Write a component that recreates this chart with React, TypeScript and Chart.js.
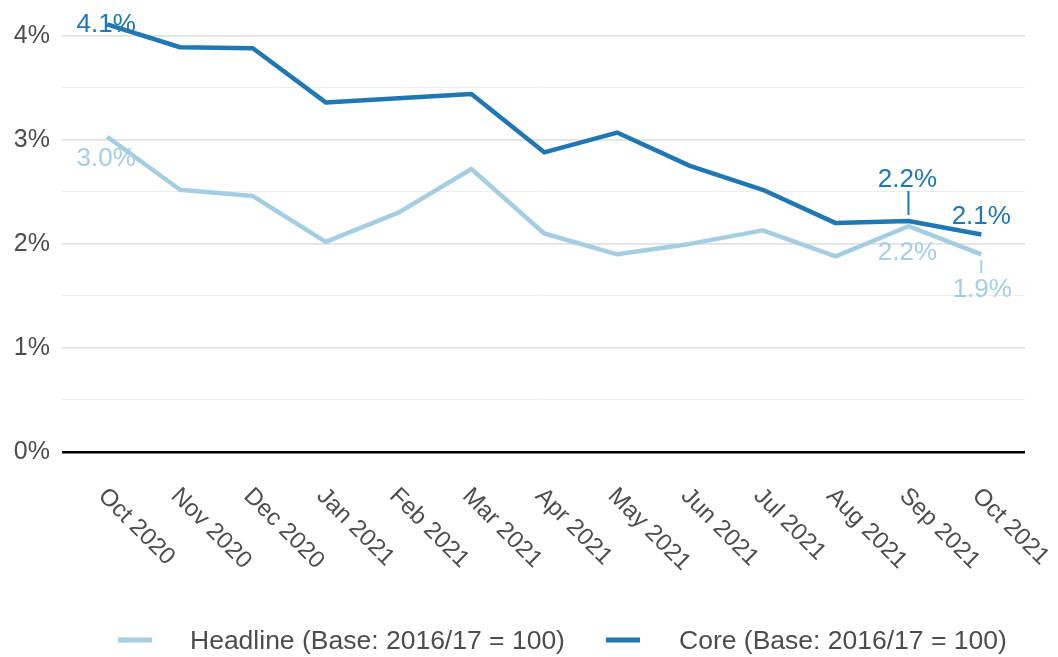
import React, { useEffect, useRef } from "react";
import { Chart, registerables } from "chart.js";

Chart.register(...registerables);

const months = [
  "Oct 2020", "Nov 2020", "Dec 2020", "Jan 2021", "Feb 2021", "Mar 2021", "Apr 2021",
  "May 2021", "Jun 2021", "Jul 2021", "Aug 2021", "Sep 2021", "Oct 2021",
];
const headlineValues = [3.03, 2.52, 2.46, 2.02, 2.3, 2.72, 2.1, 1.9, 2.0, 2.13, 1.88, 2.17, 1.9];
const coreValues = [4.11, 3.89, 3.88, 3.36, 3.4, 3.44, 2.88, 3.07, 2.75, 2.52, 2.2, 2.22, 2.09];
const yMajorTicks = [0, 1, 2, 3, 4];
const seriesNames = ["Headline (Base: 2016/17 = 100)", "Core (Base: 2016/17 = 100)"];

const HEADLINE_COLOR = "#a6cee3";
const CORE_COLOR = "#1f78b4";
const TEXT_COLOR = "#4d4d4d";
const FONT = '"Liberation Sans", Arial, sans-serif';

// label placement (dataset index, point index, offsets in px, connector)
const labelSpecs = [
  { ds: 1, i: 0, dx: -1, dy: -2, conn: null as null | [number, number] },
  { ds: 0, i: 0, dx: -1, dy: 20, conn: null },
  { ds: 1, i: 11, dx: -1, dy: -43, conn: [-30, -6] as [number, number] },
  { ds: 1, i: 12, dx: 0, dy: -20, conn: null },
  { ds: 0, i: 11, dx: -1, dy: 24, conn: null },
  { ds: 0, i: 12, dx: 1, dy: 33, conn: [6, 19] as [number, number] },
];

const overlayPlugin = {
  id: "overlay",
  afterDraw(chart: any) {
    const ctx = chart.ctx as CanvasRenderingContext2D;
    const xs = chart.scales.x;
    const ys = chart.scales.y;
    ctx.save();
    // rotated x labels
    ctx.font = `24px ${FONT}`;
    ctx.fillStyle = TEXT_COLOR;
    ctx.textAlign = "left";
    ctx.textBaseline = "alphabetic";
    months.forEach((m, i) => {
      const px = xs.getPixelForValue(i);
      ctx.save();
      ctx.translate(px - 10, ys.bottom + 45);
      ctx.rotate(Math.PI / 4);
      ctx.fillText(m, 0, 0);
      ctx.restore();
    });
    // data labels
    ctx.font = `26px ${FONT}`;
    ctx.textAlign = "center";
    labelSpecs.forEach((s) => {
      const vals = s.ds === 0 ? headlineValues : coreValues;
      const color = s.ds === 0 ? HEADLINE_COLOR : CORE_COLOR;
      const v = vals[s.i];
      const px = xs.getPixelForValue(s.i);
      const py = ys.getPixelForValue(v);
      ctx.fillStyle = color;
      ctx.fillText(v.toFixed(1) + "%", px + s.dx, py + s.dy + 26 * 0.358);
      if (s.conn) {
        ctx.strokeStyle = color;
        ctx.lineWidth = 2;
        ctx.beginPath();
        ctx.moveTo(px, py + s.conn[0]);
        ctx.lineTo(px, py + s.conn[1]);
        ctx.stroke();
      }
    });
    // legend
    const legendY = 640;
    const items = [
      { x: 118, tx: 190, color: HEADLINE_COLOR, text: seriesNames[0] },
      { x: 606, tx: 679, color: CORE_COLOR, text: seriesNames[1] },
    ];
    ctx.font = `26.5px ${FONT}`;
    ctx.textAlign = "left";
    items.forEach((it) => {
      ctx.fillStyle = it.color;
      ctx.fillRect(it.x, legendY - 2.5, 34, 5);
      ctx.fillStyle = TEXT_COLOR;
      ctx.fillText(it.text, it.tx, legendY + 26.5 * 0.358);
    });
    ctx.restore();
  },
};

export default function App() {
  const ref = useRef<HTMLCanvasElement | null>(null);
  useEffect(() => {
    if (!ref.current) return;
    const chart = new Chart(ref.current, {
      type: "line",
      data: {
        datasets: [
          {
            label: seriesNames[0],
            data: headlineValues.map((v, i) => ({ x: i, y: v })),
            borderColor: HEADLINE_COLOR,
            backgroundColor: HEADLINE_COLOR,
            borderWidth: 4.5,
            pointRadius: 0,
            borderJoinStyle: "round",
            tension: 0,
          },
          {
            label: seriesNames[1],
            data: coreValues.map((v, i) => ({ x: i, y: v })),
            borderColor: CORE_COLOR,
            backgroundColor: CORE_COLOR,
            borderWidth: 4.5,
            pointRadius: 0,
            borderJoinStyle: "round",
            tension: 0,
          },
        ],
      },
      options: {
        responsive: false,
        animation: false,
        layout: { padding: { top: 15, bottom: 205, right: 33, left: 0 } },
        plugins: { legend: { display: false }, tooltip: { enabled: false } },
        scales: {
          x: {
            type: "linear",
            min: -0.62,
            max: 12.6,
            display: false,
          },
          y: {
            min: 0,
            max: 4.2,
            border: { display: false },
            afterBuildTicks(scale: any) {
              const t: { value: number }[] = [];
              yMajorTicks.forEach((v, k) => {
                t.push({ value: v });
                if (k < yMajorTicks.length - 1) t.push({ value: v + 0.5 });
              });
              scale.ticks = t;
            },
            afterFit(scale: any) {
              scale.width = 62;
              scale.paddingTop = 0;
              scale.paddingBottom = 0;
            },
            grid: {
              drawTicks: false,
              color: (c: any) =>
                c.tick && c.tick.value === 0
                  ? "#000000"
                  : Number.isInteger(c.tick?.value)
                  ? "#e2e2e2"
                  : "#ededed",
              lineWidth: (c: any) =>
                c.tick && c.tick.value === 0 ? 2.5 : Number.isInteger(c.tick?.value) ? 1.8 : 1,
            },
            ticks: {
              padding: 12,
              color: TEXT_COLOR,
              font: { family: FONT, size: 25 },
              callback: (v: any) => (Number.isInteger(v) ? `${v}%` : ""),
            },
          },
        },
      },
      plugins: [overlayPlugin],
    } as any);
    return () => chart.destroy();
  }, []);
  return (
    <div style={{ position: "fixed", left: 0, top: 0, width: 1058, height: 657, background: "#fff" }}>
      <canvas ref={ref} width={1058} height={657} style={{ width: 1058, height: 657, display: "block" }} />
    </div>
  );
}
